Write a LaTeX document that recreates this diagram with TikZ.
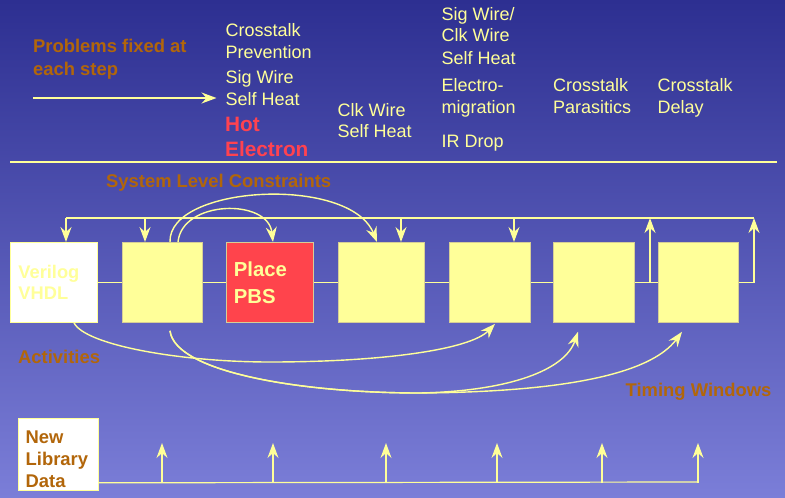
\documentclass[tikz,border=0pt]{standalone}
\usepackage{fontspec}
\setmainfont{Liberation Sans}
\usetikzlibrary{arrows.meta,calc}
\definecolor{bgtop}{RGB}{45,47,145}
\definecolor{bgbot}{RGB}{123,126,216}
\definecolor{lyel}{RGB}{255,255,153}
\definecolor{brn}{RGB}{178,102,10}
\definecolor{hotred}{RGB}{255,66,80}
\definecolor{boxred}{RGB}{255,68,76}
\definecolor{boxedge}{RGB}{214,206,150}
\begin{document}
\begin{tikzpicture}[x=1pt,y=-1pt,
  ln/.style={draw=lyel, line width=1.4pt},
  arr/.style={ln, -{Stealth[length=15pt,width=11pt,inset=5pt]}},
  colt/.style={text=lyel, font=\fontsize{18}{21.7}\selectfont, anchor=base west, inner sep=0pt},
  hott/.style={text=hotred, font=\bfseries\fontsize{20.8}{25}\selectfont, anchor=base west, inner sep=0pt},
  lbl/.style={text=brn, font=\bfseries\fontsize{18.4}{22}\selectfont, anchor=base west, inner sep=0pt},
  stepbox/.style={draw=boxedge, line width=0.8pt, fill=lyel, minimum height=80pt, anchor=north west, inner sep=0pt},
]
\useasboundingbox (0,0) rectangle (785,498);
\shade[top color=bgtop, bottom color=bgbot] (0,0) rectangle (785,498);

% ---- top legend ----
\node[lbl] (pf1) at (33,52.3) {Problems fixed at};
\node[lbl] (pf2) at (33,75) {each step};

\node[colt] (c1a) at (225.5,36) {Crosstalk};
\node[colt] (c1b) at (225.5,58.3) {Prevention};
\node[colt] (c1c) at (225.5,83.3) {Sig Wire};
\node[colt] (c1d) at (225.5,105.7) {Self Heat};
\node[hott] (h1) at (225,131) {Hot};
\node[hott] (h2) at (225,156.7) {Electron};

\node[colt] (c2a) at (337.5,116.7) {Clk Wire};
\node[colt] (c2b) at (337.5,137.3) {Self Heat};

\node[colt] (c3a) at (441.5,20) {Sig Wire/};
\node[colt] (c3b) at (441.5,41.7) {Clk Wire};
\node[colt] (c3c) at (441.5,64) {Self Heat};
\node[colt] (c3d) at (441.5,91.7) {Electro-};
\node[colt] (c3e) at (441.5,113.3) {migration};
\node[colt] (c3f) at (441.5,147.3) {IR Drop};

\node[colt] (c4a) at (553,91.7) {Crosstalk};
\node[colt] (c4b) at (553,113.3) {Parasitics};

\node[colt] (c5a) at (657.5,91.7) {Crosstalk};
\node[colt] (c5b) at (657.5,113.3) {Delay};

\coordinate (ta) at (33,98);
\draw[arr] (ta) -- ($(c1d.west |- ta)+(-9,0)$);

\coordinate (sepL) at (10,162);
\coordinate (sepR) at (777,162);
\draw[ln, line width=1.2pt] (sepL) -- (sepR);

% ---- labels ----
\node[lbl] (slc) at (106,187.3) {System Level Constraints};
\node[lbl] (act) at (18,363.3) {Activities};
\node[lbl] (tw) at (625.5,396) {Timing Windows};

% ---- bus coordinates ----
\coordinate (busL) at (66,218);
\coordinate (busR) at (754,218);
\coordinate (d2) at (145,218);
\coordinate (d4) at (401,218);
\coordinate (d5) at (514,218);
\coordinate (u6) at (650,218);

% ---- step boxes ----
\node[stepbox, fill=white, draw=lyel, minimum width=87pt, text width=71pt, inner sep=8pt, align=left, text=lyel, font=\bfseries\fontsize{18.3}{21}\selectfont] (b1) at (10,242) {Verilog\\VHDL};
\node[stepbox, minimum width=80pt] (b2) at (122,242) {};
\node[stepbox, fill=boxred, minimum width=87pt, text width=72pt, inner xsep=7.5pt, inner ysep=8pt, align=left, text=lyel, font=\bfseries\fontsize{20.3}{26.7}\selectfont] (b3) at (226,242) {Place\\PBS};
\node[stepbox, minimum width=86pt] (b4) at (338,242) {};
\node[stepbox, minimum width=81pt] (b5) at (449,242) {};
\node[stepbox, minimum width=81pt] (b6) at (553,242) {};
\node[stepbox, minimum width=80pt] (b7) at (658,242) {};

\draw[ln] (b1.east) -- (b2.west);
\draw[ln] (b2.east) -- (b3.west);
\draw[ln] (b3.east) -- (b4.west);
\draw[ln] (b4.east) -- (b5.west);
\draw[ln] (b5.east) -- (b6.west);
\draw[ln] (b6.east) -- (b7.west);

\draw[ln] (busL) -- (busR);
\draw[arr] (busL) -- (busL |- b1.north);
\draw[arr] (d2) -- (d2 |- b2.north);
\draw[arr] (d4) -- (d4 |- b4.north);
\draw[arr] (d5) -- (d5 |- b5.north);
\draw[arr] (u6 |- b6.east) -- (u6);
\draw[arr] (b7.east) -| (busR);

% ---- feedforward curves above ----
\draw[arr] ($(b2.north west)+(48,0)$) .. controls +(-2,-57) and +(-27,-67) .. ($(b4.north west)+(39,0)$);
\draw[arr] ($(b2.north west)+(56,0)$) .. controls +(4,-42) and +(-5,-44) .. ($(b3.north west)+(47,0)$);

% ---- curves below ----
\draw[arr] ($(b1.south west)+(64,0)$) .. controls (85,345) and (180,362) .. (270,362)
  .. controls (380,362) and (470,350) .. ($(b5.south west)+(46,1)$);
\draw[arr] ($(b2.south west)+(48,8)$) .. controls (175,372) and (300,393) .. (420,393)
  .. controls (510,391) and (565,370) .. ($(b6.south west)+(25,9)$);
\draw[arr] ($(b2.south west)+(48,8)$) .. controls (175,372) and (300,393) .. (420,393)
  .. controls (560,392) and (650,375) .. ($(b7.south west)+(24,9)$);

% ---- library data ----
\node[draw=lyel, fill=white, line width=0.8pt, minimum width=80pt, minimum height=72pt, anchor=north west, inner sep=0pt] (lib) at (18,418) {};
\node[lbl] (lib1) at (25.5,443.3) {New};
\node[lbl] (lib2) at (25.5,465) {Library};
\node[lbl] (lib3) at (25.5,487.3) {Data};

\coordinate (lbL) at ($(lib.south east)+(0,-8)$);
\coordinate (lbR) at (698,482);
\draw[ln, line width=1.2pt] (lbL) -- (lbR);
\foreach \x/\n in {162/1,273/2,386/3,497/4,602/5,698/6}{
  \coordinate (la\n) at (\x,443);
  \draw[arr, line width=1.2pt] (la\n |- lbL) -- (la\n);
}
\end{tikzpicture}
\end{document}
